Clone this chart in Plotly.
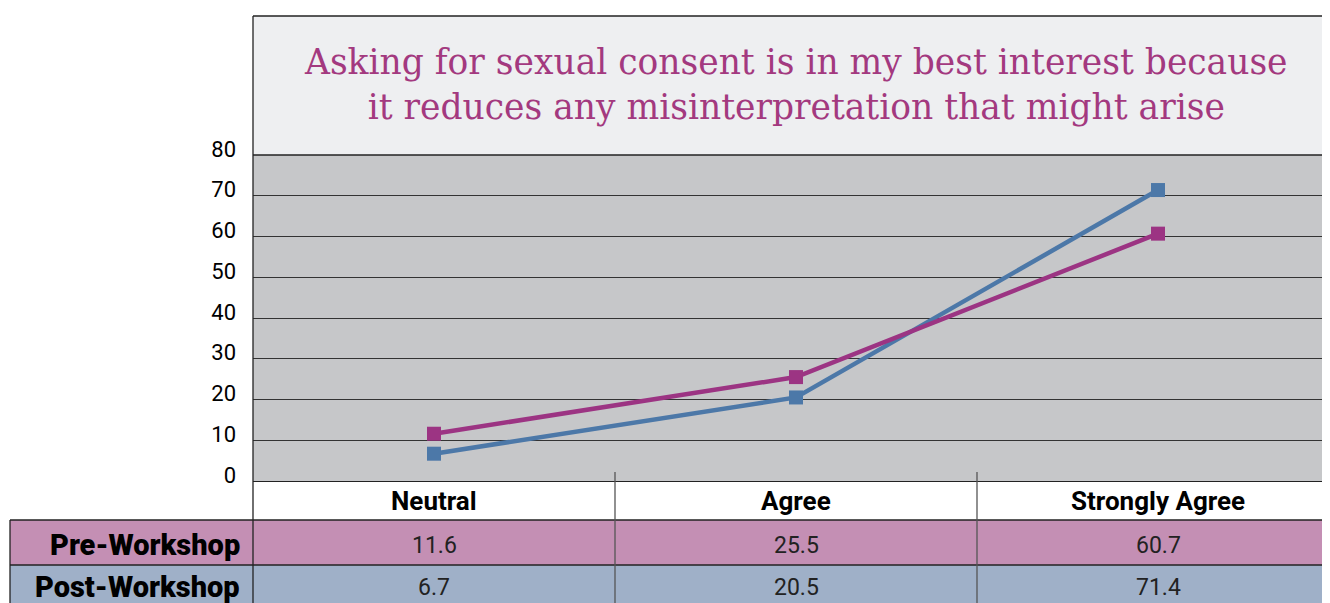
import plotly.graph_objects as go

categories = ["Neutral", "Agree", "Strongly Agree"]
pre_workshop = [11.6, 25.5, 60.7]
post_workshop = [6.7, 20.5, 71.4]
series_names = ["Pre-Workshop", "Post-Workshop"]
y_ticks = [0, 10, 20, 30, 40, 50, 60, 70, 80]
title_text = ("Asking for sexual consent is in my best interest because<br>"
              "it reduces any misinterpretation that might arise")

PRE_LINE = "#9c3483"
POST_LINE = "#4c78a8"
PRE_FILL = "#c48fb4"
POST_FILL = "#9fb0c8"

# the page body adds an 8px margin, so work in page pixels minus 8
OFF = 8
W, H = 1330, 603 - OFF
L, T, B = 253 - OFF, 155 - OFF, 122
plot_h = H - T - B
plot_w = W - L


def py(pix):
    # page pixel row -> paper y
    return (H - B - (pix - OFF)) / plot_h


def px_(pix):
    return (pix - OFF - L) / plot_w


x_idx = list(range(len(categories)))
# categories are 362px apart; the plot area runs past the right edge of the window
x_right = -0.5 + plot_w / 362.0

fig = go.Figure()
fig.add_trace(go.Scatter(x=x_idx, y=post_workshop, name=series_names[1], mode="lines+markers",
                         line=dict(color=POST_LINE, width=4.5),
                         marker=dict(symbol="square", size=14, color=POST_LINE)))
fig.add_trace(go.Scatter(x=x_idx, y=pre_workshop, name=series_names[0], mode="lines+markers",
                         line=dict(color=PRE_LINE, width=4.5),
                         marker=dict(symbol="square", size=14, color=PRE_LINE)))

shapes = []
# title box
shapes.append(dict(type="rect", xref="paper", yref="paper", x0=0, x1=1.01, y0=1, y1=py(16),
                   fillcolor="#eeeff1", line=dict(width=0), layer="below"))
# table rows
shapes.append(dict(type="rect", xref="paper", yref="paper", x0=px_(10), x1=1.01, y0=py(520), y1=py(565),
                   fillcolor=PRE_FILL, line=dict(width=0), layer="below"))
shapes.append(dict(type="rect", xref="paper", yref="paper", x0=px_(10), x1=1.01, y0=py(565), y1=py(610),
                   fillcolor=POST_FILL, line=dict(width=0), layer="below"))
line_style = dict(color="#222222", width=1.3)
for yy in (16, 155):
    shapes.append(dict(type="line", xref="paper", yref="paper", x0=0, x1=1.01, y0=py(yy), y1=py(yy),
                       line=line_style))
for yy in (520, 565):
    shapes.append(dict(type="line", xref="paper", yref="paper", x0=px_(10), x1=1.01, y0=py(yy), y1=py(yy),
                       line=line_style))
shapes.append(dict(type="line", xref="paper", yref="paper", x0=0, x1=0, y0=py(16), y1=py(610), line=line_style))
shapes.append(dict(type="line", xref="paper", yref="paper", x0=px_(10), x1=px_(10), y0=py(520), y1=py(610),
                   line=line_style))
for i in range(1, len(categories)):
    shapes.append(dict(type="line", xref="x", yref="paper", x0=i - 0.5, x1=i - 0.5, y0=py(472), y1=py(610),
                       line=dict(color="#555555", width=1.3)))

annotations = [dict(text=title_text, xref="paper", yref="paper", x=px_(796), y=py(85), xanchor="center",
                    yanchor="middle", showarrow=False, align="center",
                    font=dict(family="DejaVu Serif", size=34.5, color="#a3397f", weight=300))]
for i, cat in enumerate(categories):
    annotations.append(dict(text=cat, xref="x", yref="paper", x=i, y=py(501), xanchor="center", yanchor="middle",
                            showarrow=False, font=dict(family="Roboto", size=26, color="black", weight="bold")))
    annotations.append(dict(text=f"{pre_workshop[i]}", xref="x", yref="paper", x=i, y=py(545), xanchor="center",
                            yanchor="middle", showarrow=False, font=dict(family="Roboto", size=23, color="#222222")))
    annotations.append(dict(text=f"{post_workshop[i]}", xref="x", yref="paper", x=i, y=py(587), xanchor="center",
                            yanchor="middle", showarrow=False, font=dict(family="Roboto", size=23, color="#222222")))
for name, yy in zip(series_names, (545, 587)):
    annotations.append(dict(text=name, xref="paper", yref="paper", x=px_(242), y=py(yy), xanchor="right",
                            yanchor="middle", showarrow=False,
                            font=dict(family="Roboto", size=29, color="black", weight=900)))

fig.update_layout(
    width=W, height=H,
    margin=dict(l=L, r=0, t=T, b=B, pad=0),
    paper_bgcolor="white", plot_bgcolor="#c6c7c9",
    showlegend=False,
    shapes=shapes, annotations=annotations,
)
fig.update_xaxes(range=[-0.5, x_right], showticklabels=False, showgrid=False, zeroline=False,
                 showline=True, linecolor="#222222", linewidth=1.3, mirror=False, fixedrange=True)
fig.update_yaxes(range=[0, 80], tickvals=y_ticks, showgrid=True, gridcolor="#333333", gridwidth=1.3,
                 zeroline=False, showline=False, ticks="", ticklabelstandoff=16, ticklabelshift=-6,
                 tickfont=dict(family="Roboto", size=22, color="black"), fixedrange=True)

fig.write_html("out.html")
